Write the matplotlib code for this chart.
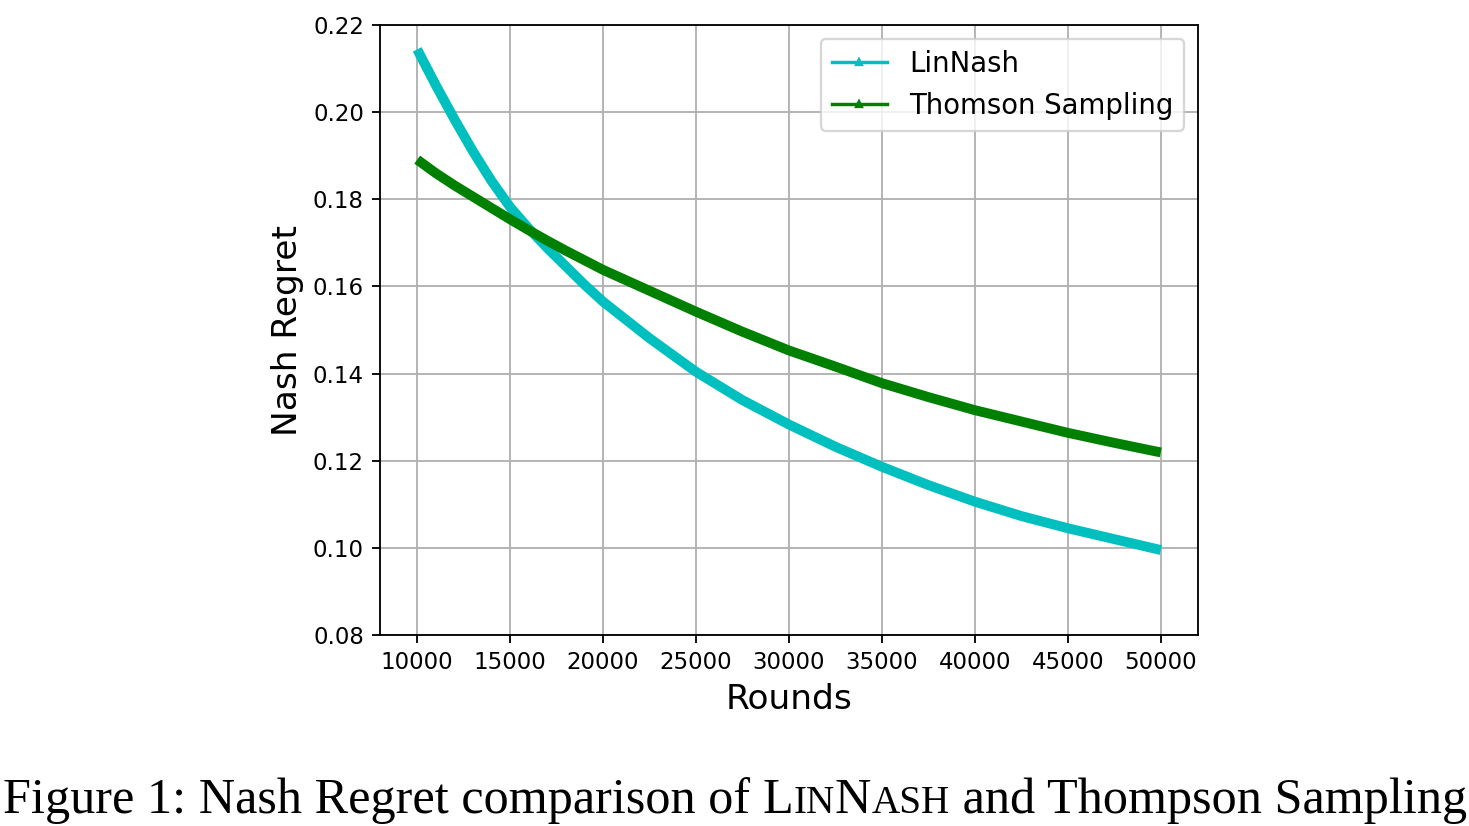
import matplotlib
matplotlib.use('Agg')
import matplotlib.pyplot as plt
from matplotlib.lines import Line2D

# ---- data ----
rounds = [10000, 11000, 12000, 13000, 14000, 15000, 16000, 17000, 18000, 19000, 20000,
          22500, 25000, 27500, 30000, 32500, 35000, 37500, 40000, 42500, 45000,
          47500, 50000]
linnash = [0.2144, 0.2062, 0.1984, 0.1910, 0.1842, 0.1782, 0.1733, 0.1688, 0.1646, 0.1604, 0.1565,
           0.1481, 0.1404, 0.1339, 0.1283, 0.1232, 0.1186, 0.1144, 0.1106, 0.1073, 0.1045,
           0.1020, 0.0995]
thompson = [0.1891, 0.1860, 0.1832, 0.1806, 0.1780, 0.1754, 0.1729, 0.1705, 0.1682, 0.1660, 0.1638,
            0.1590, 0.1542, 0.1496, 0.1453, 0.1416, 0.1378, 0.1346, 0.1316, 0.1290, 0.1264,
            0.1241, 0.1219]
series_names = ["LinNash", "Thomson Sampling"]
xticks = [10000, 15000, 20000, 25000, 30000, 35000, 40000, 45000, 50000]
yticks = [0.08, 0.10, 0.12, 0.14, 0.16, 0.18, 0.20, 0.22]

DPI = 165
W, H = 1470, 826
fig = plt.figure(figsize=(W / DPI, H / DPI), dpi=DPI)
ax = fig.add_axes([380 / W, 1 - 635 / H, (1198 - 380) / W, (635 - 25) / H])

c1, c2 = '#00bfbf', '#008000'
ax.plot(rounds, linnash, color=c1, lw=4.3, solid_capstyle='butt', solid_joinstyle='round')
ax.plot(rounds, thompson, color=c2, lw=4.3, solid_capstyle='butt', solid_joinstyle='round')

ax.set_ylim(0.08, 0.22)
ax.set_xlim(8000, 52000)
ax.set_xticks(xticks)
ax.set_yticks(yticks)
ax.set_yticklabels([f"{v:.2f}" for v in yticks])
ax.tick_params(labelsize=10)
ax.grid(True, color='#b0b0b0', lw=0.8)
ax.set_xlabel("Rounds", fontsize=15)
ax.set_ylabel("Nash Regret", fontsize=15)

handles = [Line2D([], [], color=c1, lw=1.5, marker='^', ms=3),
           Line2D([], [], color=c2, lw=1.5, marker='^', ms=3)]
ax.legend(handles, series_names, loc='upper right', fontsize=12)

# ---- caption with small caps ----
pieces = [("Figure 1: Nash Regret comparison of ", 1.0), ("L", 1.0), ("IN", 0.78),
          ("N", 1.0), ("ASH", 0.78), (" and Thompson Sampling", 1.0)]
base_fs = 20
fam = 'Liberation Serif'
renderer = fig.canvas.get_renderer()

def measure(fs):
    total = 0
    for s, k in pieces:
        t = fig.text(0, 0, s, fontsize=fs * k, family=fam)
        bb = t.get_window_extent(renderer=renderer)
        total += bb.width
        t.remove()
    return total

target = 1466
wid = measure(base_fs)
fs = base_fs * target / wid
total = measure(fs)
x = (W - total) / 2
ybase = (H - 813) / H
for s, k in pieces:
    t = fig.text(x / W, ybase, s, fontsize=fs * k, family=fam, va='baseline', ha='left')
    bb = t.get_window_extent(renderer=renderer)
    x += bb.width

fig.savefig('out.png', dpi=DPI)
